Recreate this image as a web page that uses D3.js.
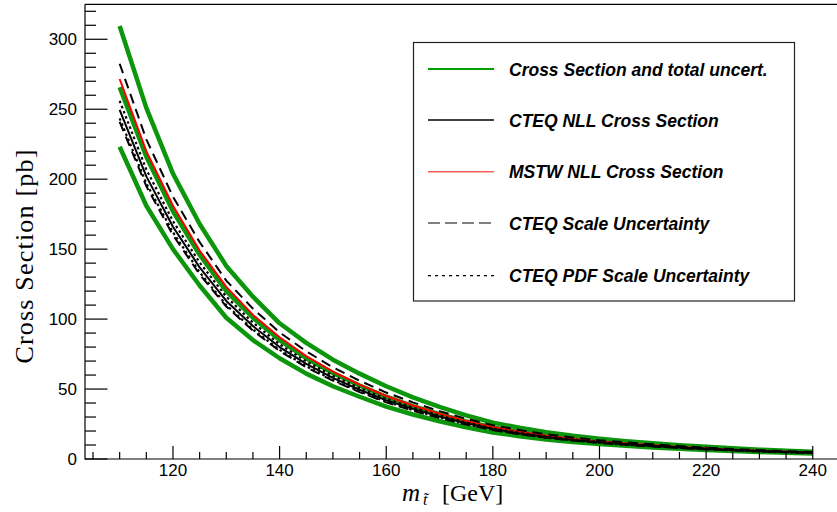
<!DOCTYPE html>
<html>
<head>
<meta charset="utf-8">
<script src="https://cdn.jsdelivr.net/npm/d3@7/dist/d3.min.js"></script>
<style>
html,body{margin:0;padding:0;background:#fff;}
svg{display:block;}
</style>
</head>
<body>
<svg id="chart" width="837" height="512"></svg>
<script>
const masses = [110,115,120,125,130,135,140,145,150,155,160,165,170,175,180,185,190,195,200,205,210,215,220,225,230,235,240];
const totalCentral = [265.7,216,177,146,120,101,85,72,61.5,52.5,44.5,37.8,32,26.8,22.5,19.3,16.6,14.4,12.6,11.1,9.8,8.6,7.6,6.7,5.9,5.2,4.6];
const totalUp = [309.5,251,204,168,138,116,97,83,71,61,52,44,37.2,31.2,26,22.3,19.2,16.6,14.5,12.7,11.2,9.8,8.7,7.6,6.7,5.9,5.2];
const totalDown = [223.2,181,150,124,101,85,72,61,52,44.5,37.5,31.8,27,22.6,19,16.3,14,12.2,10.7,9.4,8.3,7.3,6.4,5.7,5.0,4.4,3.9];
const mstwNLL = [271.6,220,181,149,123,103,87,73.5,62.5,53.2,45,38.2,32.3,27.1,22.8,19.5,16.7,14.5,12.6,11.1,9.8,8.6,7.6,6.7,5.9,5.2,4.6];
const cteqNLL = [249.5,202,166,137,113,95,80,68,58,49.5,42,35.8,30.3,25.5,21.4,18.3,15.7,13.6,11.9,10.5,9.3,8.2,7.2,6.4,5.6,5.0,4.4];
const cteqScaleUp = [282.5,228.5,187.5,155,127.5,107.5,90.5,77,65.5,56,47.5,40.5,34.2,28.8,24.2,20.7,17.7,15.4,13.4,11.9,10.5,9.3,8.1,7.2,6.3,5.6,5.0];
const cteqScaleDown = [241,195,160,132,109,91.7,77.2,65.6,56,47.8,40.5,34.5,29.2,24.6,20.7,17.7,15.2,13.1,11.5,10.1,9.0,7.9,6.9,6.2,5.4,4.8,4.2];
const cteqPdfUp = [256,207,170,140.5,116,97.5,82,69.7,59.5,50.7,43,36.7,31,26.1,21.9,18.8,16.1,13.9,12.2,10.8,9.5,8.4,7.4,6.6,5.7,5.1,4.5];
const cteqPdfDown = [243.5,197,162,133.5,110,92.6,78,66.3,56.5,48.3,41,34.9,29.6,24.9,20.9,17.8,15.3,13.3,11.6,10.2,9.1,8.0,7.0,6.2,5.5,4.9,4.3];
const xTicks = [120,140,160,180,200,220,240];
const yTicks = [0,50,100,150,200,250,300];
const legendLabels = ["Cross Section and total uncert.","CTEQ NLL Cross Section","MSTW NLL Cross Section","CTEQ Scale Uncertainty","CTEQ PDF Scale Uncertainty"];

const svg = d3.select("#chart");
const W = 837, H = 512;
svg.append("rect").attr("width",W).attr("height",H).attr("fill","#fff");

const x = d3.scaleLinear().domain([103.5,246.5]).range([85,847.4]);
const y = d3.scaleLinear().domain([0,325]).range([459,4.3]);

const GREEN = "#0b960b";
const plot = svg.append("g");

function drawSeries(vals, opts){
  const line = d3.line().x((d,i)=>x(masses[i])).y(d=>y(d)).curve(d3.curveLinear);
  plot.append("path").datum(vals).attr("d",line)
    .attr("fill","none").attr("stroke",opts.color).attr("stroke-width",opts.width)
    .attr("stroke-dasharray",opts.dash||null).attr("stroke-linejoin","round");
}
drawSeries(totalUp,{color:GREEN,width:4.5});
drawSeries(totalCentral,{color:GREEN,width:4.5});
drawSeries(totalDown,{color:GREEN,width:4.5});
drawSeries(mstwNLL,{color:"#ff0000",width:2});
drawSeries(cteqPdfUp,{color:"#000",width:2.2,dash:"2.5,3"});
drawSeries(cteqPdfDown,{color:"#000",width:2.2,dash:"2.5,3"});
drawSeries(cteqNLL,{color:"#000",width:2});
drawSeries(cteqScaleUp,{color:"#000",width:2,dash:"10,6"});
drawSeries(cteqScaleDown,{color:"#000",width:2,dash:"10,6"});

// frame
const ax = svg.append("g").attr("stroke","#000").attr("stroke-width",1.2).attr("fill","none");
ax.append("line").attr("x1",85).attr("x2",85).attr("y1",4.3).attr("y2",459.6);
ax.append("line").attr("x1",85).attr("x2",W).attr("y1",459).attr("y2",459);
ax.append("line").attr("x1",85).attr("x2",W).attr("y1",4.3).attr("y2",4.3);

// ticks
const xMinor = d3.range(105,246,5);
xMinor.forEach(v=>{
  const major = xTicks.includes(v);
  ax.append("line").attr("x1",x(v)).attr("x2",x(v)).attr("y1",459).attr("y2",459-(major?13:7));
});
const yMinor = d3.range(0,326,10);
yMinor.forEach(v=>{
  const major = yTicks.includes(v);
  ax.append("line").attr("x1",85).attr("x2",85+(major?22.5:11)).attr("y1",y(v)).attr("y2",y(v));
});

const lab = svg.append("g").attr("font-family","'Liberation Sans', Arial, sans-serif").attr("font-size",17).attr("fill","#000");
xTicks.forEach(v=>{
  lab.append("text").attr("x",x(v)).attr("y",476).attr("text-anchor","middle").text(v);
});
yTicks.forEach(v=>{
  lab.append("text").attr("x",77).attr("y",y(v)+6).attr("text-anchor","end").text(v);
});

// axis titles
svg.append("text").attr("transform","translate(33,256) rotate(-90)")
  .attr("text-anchor","middle").attr("font-family","'Liberation Serif','Times New Roman',serif")
  .attr("font-size",26).attr("letter-spacing",1.2).text("Cross Section [pb]");
const serif = "'Liberation Serif','Times New Roman',serif";
svg.append("text").attr("x",402).attr("y",501).attr("font-family",serif).attr("font-size",25)
  .attr("font-style","italic").text("m");
svg.append("text").attr("x",423).attr("y",505).attr("font-family",serif).attr("font-size",16)
  .attr("font-style","italic").text("t\u0303");
svg.append("text").attr("x",442).attr("y",501).attr("font-family",serif).attr("font-size",24)
  .text("[GeV]");

// legend
const lg = svg.append("g");
lg.append("rect").attr("x",413.5).attr("y",42.5).attr("width",381).attr("height",258.5)
  .attr("fill","#fff").attr("stroke","#222").attr("stroke-width",1.2);
const legendStyles = [
  {color:"#00a000",width:2,dash:null},
  {color:"#000",width:1.5,dash:null},
  {color:"#ff5a5a",width:1.5,dash:null},
  {color:"#000",width:1.2,dash:"12,5"},
  {color:"#000",width:1.2,dash:"3,4"}
];
const legendY = [69,120,171.7,223,275.7];
legendLabels.forEach((t,i)=>{
  const s = legendStyles[i];
  lg.append("line").attr("x1",428).attr("x2",494).attr("y1",legendY[i]).attr("y2",legendY[i])
    .attr("stroke",s.color).attr("stroke-width",s.width).attr("stroke-dasharray",s.dash);
  lg.append("text").attr("x",509).attr("y",legendY[i]+6.5)
    .attr("font-family","'Liberation Sans', Arial, sans-serif").attr("font-weight","bold")
    .attr("font-style","italic").attr("font-size",17.5).text(t);
});
</script>
</body>
</html>
